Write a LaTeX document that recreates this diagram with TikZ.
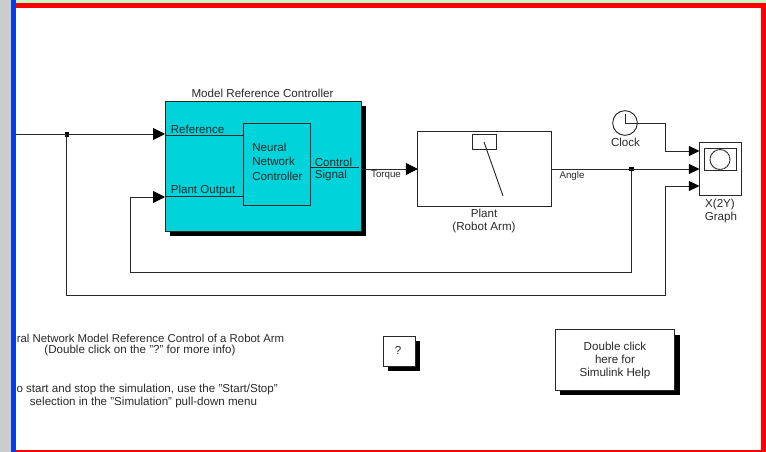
\documentclass[tikz,border=0pt]{standalone}
\usepackage{fontspec}
\setmainfont{Liberation Sans}
\usetikzlibrary{arrows.meta,calc}
\definecolor{cy}{HTML}{00D3D9}
\definecolor{wire}{HTML}{282828}
\definecolor{txt}{HTML}{2A2A2A}
\definecolor{stripgray}{HTML}{CCCCCC}
\definecolor{bluebar}{HTML}{0A3CE6}
\definecolor{green}{HTML}{C4F7C4}
\tikzset{
  x=0.75pt,y=-0.75pt,
  wirel/.style={draw=wire,line width=0.7pt},
  flow/.style={wirel,-{Triangle[length=9pt,width=9pt,color=black]}},
  flowsm/.style={wirel,-{Triangle[length=8pt,width=7.5pt,color=black]}},
  blk/.style={draw=wire,line width=0.7pt,fill=white,inner sep=0pt,outer sep=0pt},
  lbl/.style={text=txt,font=\fontsize{8.7}{9.8}\selectfont,inner sep=0pt,align=center},
  lblnote/.style={text=txt,font=\fontsize{8.55}{9.8}\selectfont,inner sep=0pt},
  lblnotew/.style={text=txt,font=\fontsize{8.68}{9.8}\selectfont,inner sep=0pt},
  lblsm/.style={text=txt,font=\fontsize{7.3}{8.5}\selectfont,inner sep=0pt},
  jun/.style={fill=black,inner sep=0pt,minimum size=3.4pt,outer sep=0pt},
  shad/.style={fill=black,draw=none}
}
\begin{document}
\begin{tikzpicture}
\useasboundingbox (0,0) rectangle (766,452);
\fill[white] (0,0) rectangle (766,452);
% shadows
\fill[shad] (170,106) rectangle (366,236);
\fill[shad] (388,341) rectangle (420,371);
\fill[shad] (560,335) rectangle (680,395);
% blocks
\node[blk,fill=cy,minimum width=147pt,minimum height=97pt] (model) at (263,166.3) {};
\node[blk,fill=none,minimum width=50pt,minimum height=61.5pt] (nn) at (277,164.5) {};
\node[blk,minimum width=100pt,minimum height=56.3pt] (plant) at (484.5,169) {};
\node[blk,minimum width=18pt,minimum height=11.2pt] (arm) at (484,142) {};
\node[blk,minimum width=31.5pt,minimum height=40pt] (graph) at (720.5,169) {};
\node[blk,line width=0.75pt,minimum width=24pt,minimum height=17.2pt] (screen) at (720,159.5) {};
\node[draw=wire,dash pattern=on 2.2pt off 0.35pt,line width=0.7pt,circle,minimum size=15pt,inner sep=0pt] (scope) at (720,159.5) {};
\node[blk,circle,minimum size=18.5pt] (clock) at (625,123) {};
\node[blk,minimum width=24pt,minimum height=22.5pt] (q) at (399,351) {};
\node[blk,minimum width=89.5pt,minimum height=45.4pt] (help) at (615,360.2) {};
% pendulum
\coordinate (pivot) at (484,142);
\coordinate (bob) at (503,196);
\draw[wirel] (pivot) -- (bob);
% clock hands
\coordinate (h1) at (625,114);
\draw[wirel] (h1) -- (clock.center) -- (clock.east);
% junctions and bend points
\node[jun] (j1) at (67,134.5) {};
\node[jun] (j2) at (631.5,169) {};
\coordinate (inL) at (16,134);
\coordinate (p1) at (165,134);
\coordinate (p2) at (165,197);
\coordinate (g1) at (699.5,151);
\coordinate (g2) at (699.5,169);
\coordinate (g3) at (699.5,186);
\coordinate (fb) at (130,272);
\coordinate (xb) at (665,295);
\coordinate (xl) at (66,295);
\coordinate (ck) at (665,123);
% wires
\draw[flow] (inL) -- (p1);
\draw[wirel] (j1.center) ++(-1,0) -- (xl) -- (xb) -- (665,186);
\draw[flowsm] (665,186) -- (g3);
\draw[flow] (p2 -| fb) -- (p2);
\draw[wirel] (fb) -- (p2 -| fb);
\draw[wirel] (fb) -- (fb -| j2) -- (j2);
\draw[flow] (model.east |- plant.west) -- (plant.west);
\draw[flowsm] (plant.east) -- (g2);
\draw[flowsm] (clock.east) -- (ck) -- (665,151) -- (g1);
% inner wires of the controller
\draw[wirel] (p1) ++(0,1) -- (243.5,135);
\draw[wirel] (p2) ++(0,-1) -- (243.5,196);
\draw[wirel] (nn.east |- 0,167) -- (359,167);
% labels
\node[lbl] (tm) at (262.5,93.5) {Model Reference Controller};
\node[lbl,anchor=west] (tr) at (170.5,129.5) {Reference};
\node[lbl,anchor=west] (tp) at (170.5,191) {Plant Output};
\node[lbl,anchor=west,align=left] (tn) at (252,161.5) {Neural\\[1pt]Network\\[1pt]Controller};
\node[lbl,anchor=west,align=left] (tc) at (314.5,169.3) {Control\\[-.6pt]Signal};
\node[lblsm] (tt) at (386,175.5) {Torque};
\node[lblsm] (ta) at (572,175.5) {Angle};
\node[lbl] (tpl) at (484,221) {Plant\\[0pt](Robot Arm)};
\node[lbl] (tcl) at (625.5,142.5) {Clock};
\node[lbl] (tg) at (720,211) {X(2Y)\\[0pt]\,Graph};
\node[lbl] (tq) at (398,350) {?};
\node[lbl] (th) at (615,360.5) {Double click\\[0pt]here for\\[0pt]Simulink Help};
\node[lblnote,anchor=east] (t1a) at (284.5,338) {ral Network Model Reference Control of a Robot Arm};
\node[lblnotew] (t1b) at (140,351) {(Double click on the "?" for more info)};
\node[lblnotew,anchor=east] (t2a) at (278,389.5) {o start and stop the simulation, use the "Start/Stop"};
\node[lblnotew] (t2b) at (143.5,403) {selection in the "Simulation" pull-down menu};
% window frame
\fill[stripgray] (0,0) rectangle (11,452);
\fill[bluebar] (11,0) rectangle (16,452);
\fill[green] (16,0) rectangle (766,3);
\fill[red] (16,3) rectangle (766,8);
\fill[red] (761,3) rectangle (766,452);
\fill[red] (16,450) rectangle (766,452);
\end{tikzpicture}
\end{document}
